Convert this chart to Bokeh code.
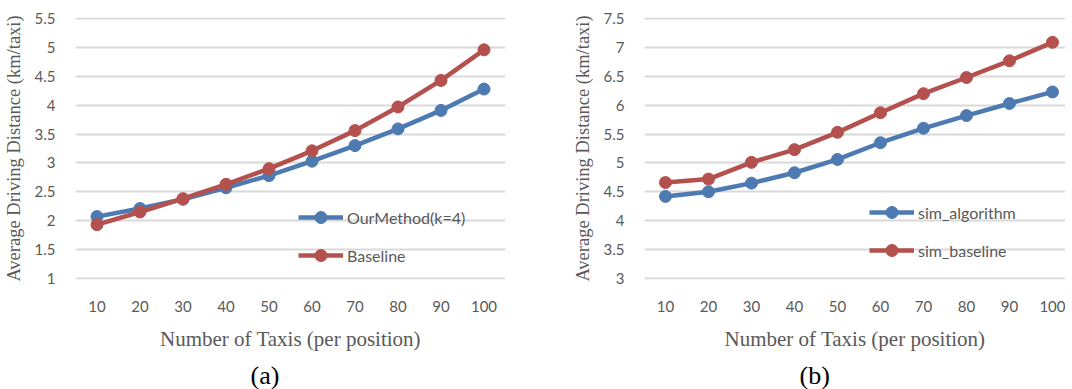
from bokeh.plotting import figure
from bokeh.layouts import row
from bokeh.models import Range1d, FixedTicker, NumeralTickFormatter
from bokeh.embed import file_html
from bokeh.resources import INLINE

# ---- data ----
taxis = [10, 20, 30, 40, 50, 60, 70, 80, 90, 100]
a_ourmethod = [2.07, 2.21, 2.37, 2.57, 2.78, 3.03, 3.30, 3.59, 3.91, 4.28]
a_baseline = [1.93, 2.15, 2.38, 2.63, 2.90, 3.21, 3.56, 3.97, 4.43, 4.96]
b_algorithm = [4.42, 4.50, 4.65, 4.83, 5.06, 5.35, 5.60, 5.82, 6.03, 6.23]
b_baseline = [4.66, 4.72, 5.01, 5.23, 5.53, 5.87, 6.20, 6.48, 6.77, 7.09]
a_yticks = [1, 1.5, 2, 2.5, 3, 3.5, 4, 4.5, 5, 5.5]
b_yticks = [3, 3.5, 4, 4.5, 5, 5.5, 6, 6.5, 7, 7.5]
a_series_names = ["OurMethod(k=4)", "Baseline"]
b_series_names = ["sim_algorithm", "sim_baseline"]
x_title = "Number of Taxis (per position)"
y_title = "Average Driving Distance (km/taxi)"

BLUE = "#4e7ab2"
RED = "#b4514e"
GRID = "#d9d9d9"
TXT = "#595959"
TICK_FONT = "Lato"
SERIF = "Liberation Serif"


def make_panel(caption, yticks, series, names, border_left, frame_w, border_right,
               x_start, legend_loc, title_offset):
    pad = 0.02
    p = figure(frame_width=frame_w, frame_height=262,
               min_border_left=border_left, min_border_right=border_right,
               min_border_top=17, min_border_bottom=60,
               x_range=Range1d(x_start, x_start + frame_w / 4.3),
               y_range=Range1d(yticks[0] - pad, yticks[-1] + pad),
               output_backend="svg", toolbar_location=None,
               title=caption, title_location="below")
    p.outline_line_color = None
    p.background_fill_color = "white"
    p.border_fill_color = "white"
    p.xgrid.visible = False
    p.ygrid.grid_line_color = GRID
    p.ygrid.grid_line_width = 2

    p.yaxis.ticker = FixedTicker(ticks=yticks)
    p.yaxis.formatter = NumeralTickFormatter(format="0.[0]")
    p.xaxis.ticker = FixedTicker(ticks=taxis)
    for ax in (p.xaxis[0], p.yaxis[0]):
        ax.axis_line_color = None
        ax.major_tick_line_color = None
        ax.minor_tick_line_color = None
        ax.major_tick_out = 0
        ax.major_label_text_font = TICK_FONT
        ax.major_label_text_font_size = "15px"
        ax.major_label_text_color = TXT
        ax.axis_label_text_font = SERIF
        ax.axis_label_text_font_style = "normal"
        ax.axis_label_text_color = TXT
    p.xaxis.axis_label = x_title
    p.xaxis.axis_label_text_font_size = "21px"
    p.xaxis.major_label_standoff = 21
    p.xaxis.axis_label_standoff = 12
    p.yaxis.axis_label = y_title
    p.yaxis.axis_label_text_font_size = "18.5px"
    p.yaxis.major_label_standoff = 20
    p.yaxis.axis_label_standoff = 8

    for vals, color, name in zip(series, (BLUE, RED), names):
        p.line(taxis, vals, line_color=color, line_width=4.5, legend_label=name)
        p.scatter(taxis, vals, marker="circle", size=12, fill_color=color,
                  line_color=color, legend_label=name)

    lg = p.legend[0]
    lg.location = legend_loc
    lg.background_fill_alpha = 0
    lg.border_line_color = None
    lg.padding = 0
    lg.margin = 0
    lg.spacing = 8
    lg.glyph_width = 45
    lg.glyph_height = 30
    lg.label_height = 30
    lg.label_standoff = 4
    lg.label_text_font = TICK_FONT
    lg.label_text_font_size = "16px"
    lg.label_text_color = TXT

    p.title.text_font = SERIF
    p.title.text_font_size = "26px"
    p.title.text_font_style = "normal"
    p.title.text_color = "black"
    p.title.align = "left"
    p.title.offset = title_offset
    p.title.standoff = 10
    return p


pa = make_panel("(a)", a_yticks, (a_ourmethod, a_baseline), a_series_names,
                66, 430, 36, 5.0, (223, 9), 175)
pb = make_panel("(b)", b_yticks, (b_algorithm, b_baseline), b_series_names,
                103, 421, 0, 5.12, (225, 14), 155)

layout = row(pa, pb)
open("out.html", "w").write(file_html(layout, INLINE))
